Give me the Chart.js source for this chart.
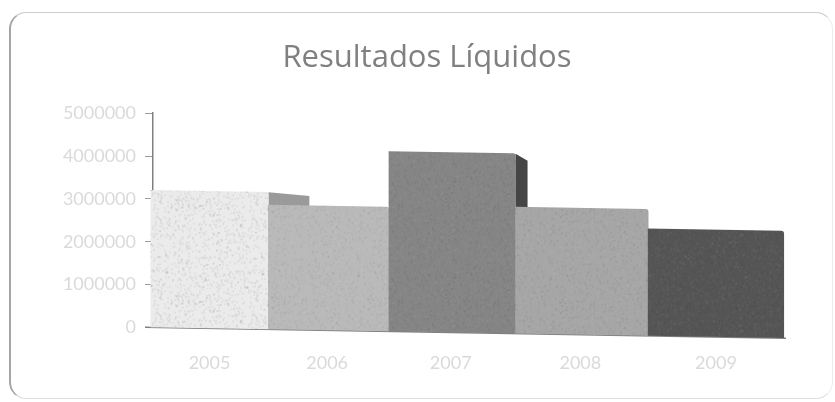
<!DOCTYPE html>
<html>
<head>
<meta charset="utf-8">
<title>Resultados Líquidos</title>
<script src="https://cdn.jsdelivr.net/npm/chart.js@4"></script>
<style>
  html, body { margin: 0; background: #fff; }
  #wrap { position: relative; width: 835px; height: 402px; overflow: hidden; }
  #frame { position: absolute; left: 9px; top: 12px; width: 824px; height: 387px; box-sizing: border-box;
    border: 1px solid #ececec; border-top-color: #ccc; border-bottom-color: #ddd;
    border-left: 2px solid #a5a5a5; border-radius: 17px; }
  #chart { position: absolute; left: 0; top: 0; filter: blur(0.6px); }
</style>
</head>
<body>
<div id="wrap">
  <div id="frame"></div>
  <canvas id="chart" width="835" height="402"></canvas>
</div>
<script>
"use strict";
const years = ["2005", "2006", "2007", "2008", "2009"];
const resultados = [3200000, 2900000, 4200000, 2950000, 2500000];
const barColors = ["#ebebeb", "#b9b9b9", "#858585", "#a6a6a6", "#555555"];
const sideColors = ["#9a9a9a", "#8a8a8a", "#454545", "#888888", "#333333"];

const baseTilt = 0.017;                 // the floor runs slightly downhill to the right
const sideDepth = [41, 20, 12, 0, 0];   // visible side wall, shrinks towards the viewer
const sideDrop = [3, 3, 7, 0, 0];

/* ---------- grainy fill, like the scanned original ---------- */
function grain(base, amount, dots) {
  const c = document.createElement("canvas");
  c.width = c.height = 96;
  const g = c.getContext("2d");
  g.fillStyle = base;
  g.fillRect(0, 0, 96, 96);
  let s = 12345;
  const next = () => (s = (s * 1103515245 + 12345) & 0x7fffffff) / 0x7fffffff;
  for (let i = 0; i < dots; i++) {
    g.fillStyle = next() > 0.5 ? `rgba(255,255,255,${amount})` : `rgba(0,0,0,${amount})`;
    g.fillRect(Math.floor(next() * 96), Math.floor(next() * 96), 2, 2);
  }
  return g.createPattern(c, "repeat");
}

/* ---------- category axis with the perspective squeeze ---------- */
class PerspectiveScale extends Chart.CategoryScale {
  getPixelForValue(value, index) {
    const p = super.getPixelForValue(value, index);
    const t = (p - this.left) / this.width;
    return p + 75 * t * (t - 1);
  }
}
PerspectiveScale.id = "perspective";
PerspectiveScale.defaults = Chart.CategoryScale.defaults;
Chart.register(PerspectiveScale);

/* ---------- tilt the bars and add their side walls ---------- */
const tiltedBars = {
  id: "tiltedBars",
  beforeDatasetsDraw(chart) {
    const { ctx, chartArea: a, scales: { y } } = chart;
    ctx.save();
    ctx.transform(1, baseTilt, 0, 1, 0, -baseTilt * a.left);
    chart.getDatasetMeta(0).data.forEach((bar, i) => {
      const d = sideDepth[i];
      if (!d) return;
      const r = bar.x + bar.width / 2;
      ctx.fillStyle = sideColors[i];
      ctx.beginPath();
      ctx.moveTo(r, bar.y);
      ctx.lineTo(r + d, bar.y + sideDrop[i]);
      ctx.lineTo(r + d, y.getPixelForValue(0));
      ctx.lineTo(r, y.getPixelForValue(0));
      ctx.closePath();
      ctx.fill();
    });
    ctx.strokeStyle = "#808080";
    ctx.lineWidth = 1.5;
    ctx.beginPath();
    ctx.moveTo(a.left - 8, y.getPixelForValue(0));
    ctx.lineTo(a.right, y.getPixelForValue(0));
    ctx.stroke();
  },
  afterDatasetsDraw(chart) {
    chart.ctx.restore();
  }
};

new Chart(document.getElementById("chart"), {
  type: "bar",
  data: {
    labels: years,
    datasets: [{
      data: resultados,
      backgroundColor: barColors.map((c, i) => i === 0 ? grain(c, 0.045, 1500) : grain(c, 0.03, 900)),
      barPercentage: 1,
      categoryPercentage: 1,
      barThickness: "flex",
      clip: false,
      borderRadius: { topRight: 3 }
    }]
  },
  plugins: [tiltedBars],
  options: {
    responsive: false,
    animation: false,
    layout: { padding: { left: 19, bottom: 11 } },
    plugins: {
      legend: { display: false },
      tooltip: { enabled: false },
      title: {
        display: true,
        text: "Resultados Líquidos",
        color: "#808080",
        font: { family: "Open Sans", size: 31, weight: "normal" },
        padding: { top: 40, bottom: 36 }
      }
    },
    scales: {
      x: {
        type: "perspective",
        grid: { display: false },
        border: { display: false },
        ticks: { color: "#dadada", font: { family: "Lato", size: 18 }, padding: 17 }
      },
      y: {
        min: 0,
        max: 5000000,
        afterFit: s => { s.width = 134; },
        grid: { drawOnChartArea: false, tickLength: 8, color: "#9a9a9a" },
        border: { color: "#808080", width: 1.5 },
        ticks: { stepSize: 1000000, color: "#dadada", font: { family: "Lato", size: 18 }, padding: 9,
          callback: v => String(v) }
      },
      // empty axis, only keeps the plot clear of the right edge while the title stays centred
      rightGap: {
        position: "right",
        afterFit: s => { s.width = 49; },
        grid: { display: false },
        border: { display: false },
        ticks: { display: false }
      }
    }
  }
});
</script>
</body>
</html>
